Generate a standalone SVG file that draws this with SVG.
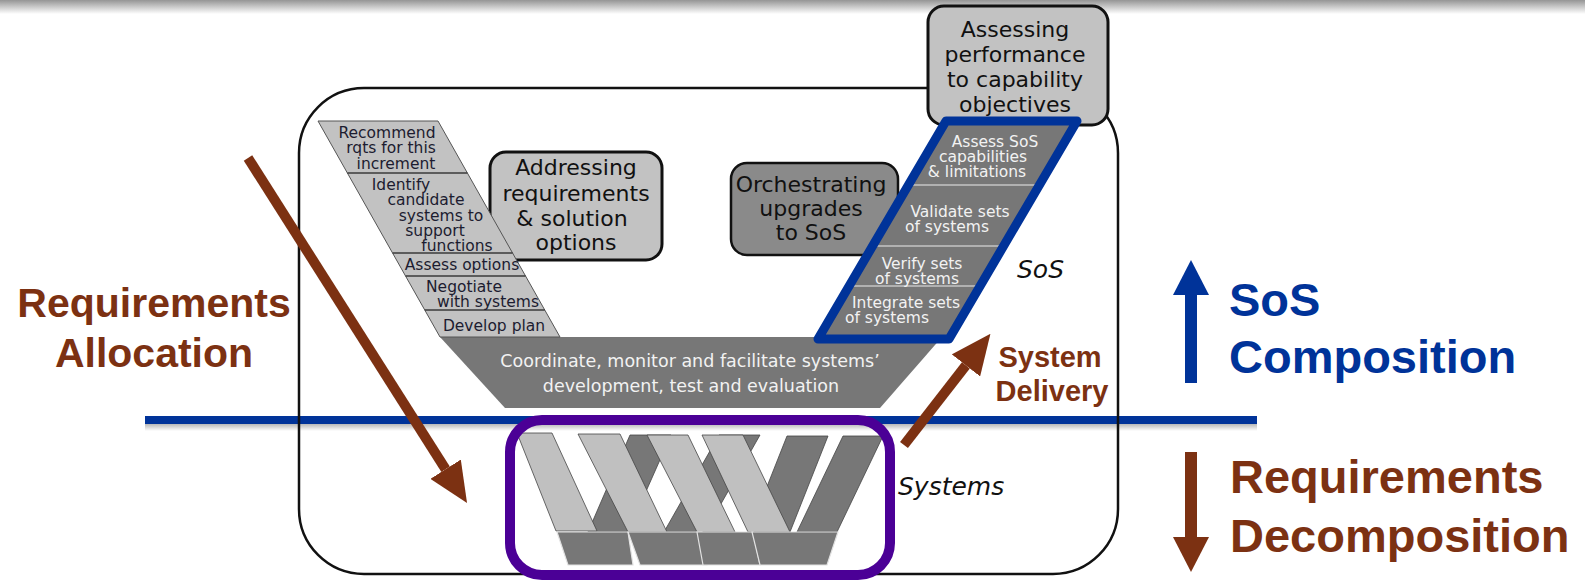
<svg xmlns="http://www.w3.org/2000/svg" width="1585" height="580" viewBox="0 0 1585 580">
  <style>
    .box-light { fill: #c2c2c2; stroke: #111; stroke-width: 3; }
    .box-mid { fill: #8a8a8a; stroke: #111; stroke-width: 2.5; }
    .box-text { font-family: "DejaVu Sans", Verdana, sans-serif; font-size: 22px; fill: #111; text-anchor: middle; }
    .arm-text { font-family: "DejaVu Sans", Verdana, sans-serif; font-size: 15.5px; text-anchor: middle; }
    .dark-ink { fill: #1c1c30; }
    .light-ink { fill: #f2f2f2; }
    .level { font-family: "DejaVu Sans", Verdana, sans-serif; font-size: 25px; font-style: italic; fill: #111; }
    .big { font-family: "Liberation Sans", Arial, sans-serif; font-weight: bold; }
    .brown { fill: #7c3112; }
    .blue { fill: #003399; }
    .bar-light { fill: #c0c0c0; stroke: #454545; stroke-width: 0.8; }
    .bar-dark { fill: #777; stroke: #454545; stroke-width: 0.8; }
    .foot { fill: #777; stroke: #e2e2e2; stroke-width: 1.2; }
  </style>
  <defs>
    <linearGradient id="topShade" x1="0" y1="0" x2="0" y2="1">
      <stop offset="0" stop-color="#959595"/>
      <stop offset="1" stop-color="#ffffff"/>
    </linearGradient>
    <linearGradient id="lineShade" x1="0" y1="0" x2="0" y2="1">
      <stop offset="0" stop-color="#000" stop-opacity="0.28"/>
      <stop offset="1" stop-color="#000" stop-opacity="0"/>
    </linearGradient>
    <marker id="headBrown" viewBox="0 0 40 36" refX="0" refY="18" markerWidth="40" markerHeight="36" markerUnits="userSpaceOnUse" orient="auto">
      <path d="M0,0 L40,18 L0,36 Z" fill="#7c3112"/>
    </marker>
    <marker id="headBrownV" viewBox="0 0 35 36" refX="0" refY="18" markerWidth="35" markerHeight="36" markerUnits="userSpaceOnUse" orient="auto">
      <path d="M0,0 L35,18 L0,36 Z" fill="#7c3112"/>
    </marker>
    <marker id="headBlue" viewBox="0 0 35 36" refX="0" refY="18" markerWidth="35" markerHeight="36" markerUnits="userSpaceOnUse" orient="auto">
      <path d="M0,0 L35,18 L0,36 Z" fill="#003399"/>
    </marker>
  </defs>

  <rect x="0" y="0" width="1585" height="580" fill="#fff"/>
  <rect x="0" y="0" width="1585" height="14" fill="url(#topShade)"/>

  <!-- SoS / systems boundary line -->
  <g id="boundary">
    <rect x="145" y="424" width="1112" height="7" fill="url(#lineShade)"/>
    <line x1="145" y1="420" x2="1257" y2="420" stroke="#003399" stroke-width="8"/>
  </g>

  <!-- outer frame -->
  <rect id="frame" x="299" y="88" width="819" height="486" rx="65" ry="65" fill="none" stroke="#111" stroke-width="2.5"/>

  <g id="assessing-box">
    <rect x="928" y="6" width="180" height="119" rx="16" class="box-light"/>
    <text class="box-text" x="1015" y="37">Assessing</text>
    <text class="box-text" x="1015" y="62">performance</text>
    <text class="box-text" x="1015" y="87">to capability</text>
    <text class="box-text" x="1015" y="112">objectives</text>
  </g>

  <g id="addressing-box">
    <rect x="490" y="152" width="172" height="108" rx="16" class="box-light"/>
    <text class="box-text" x="576" y="175">Addressing</text>
    <text class="box-text" x="576" y="201">requirements</text>
    <text class="box-text" x="572" y="226">&amp; solution</text>
    <text class="box-text" x="576" y="250">options</text>
  </g>

  <g id="orchestrating-box">
    <rect x="731" y="163" width="167" height="92" rx="16" class="box-mid"/>
    <text class="box-text" x="811" y="192">Orchestrating</text>
    <text class="box-text" x="811" y="216">upgrades</text>
    <text class="box-text" x="811" y="240">to SoS</text>
  </g>

  <!-- bottom of the SoS V -->
  <g id="coordinate">
    <polygon points="440,337 942,337 880,408 505,408" fill="#777"/>
    <text class="arm-text light-ink" style="font-size:17.5px" x="690" y="367">Coordinate, monitor and facilitate systems’</text>
    <text class="arm-text light-ink" style="font-size:17.5px" x="691" y="392">development, test and evaluation</text>
  </g>

  <!-- left arm of the SoS V -->
  <g id="left-arm">
    <polygon points="318,121 438,121 560,337 440,337" fill="#c2c2c2" stroke="#555" stroke-width="1"/>
    <g stroke="#3a3a3a" stroke-width="1.5">
      <line x1="347.4" y1="173" x2="467.4" y2="173"/>
      <line x1="392.6" y1="253" x2="512.6" y2="253"/>
      <line x1="405.6" y1="276" x2="525.6" y2="276"/>
      <line x1="424.8" y1="310" x2="544.8" y2="310"/>
    </g>
    <text class="arm-text dark-ink" x="387" y="138">Recommend</text>
    <text class="arm-text dark-ink" x="391" y="153">rqts for this</text>
    <text class="arm-text dark-ink" x="396" y="169">increment</text>
    <text class="arm-text dark-ink" x="401" y="190">Identify</text>
    <text class="arm-text dark-ink" x="426" y="205">candidate</text>
    <text class="arm-text dark-ink" x="441" y="221">systems to</text>
    <text class="arm-text dark-ink" x="435" y="236">support</text>
    <text class="arm-text dark-ink" x="457" y="251">functions</text>
    <text class="arm-text dark-ink" x="462" y="270">Assess options</text>
    <text class="arm-text dark-ink" x="464" y="292">Negotiate</text>
    <text class="arm-text dark-ink" x="488" y="307">with systems</text>
    <text class="arm-text dark-ink" x="494" y="331">Develop plan</text>
  </g>

  <!-- right arm of the SoS V -->
  <g id="right-arm">
    <polygon points="946,121 1077,121 949,339 818,339" fill="#777"/>
    <g stroke="#c4c4c4" stroke-width="1.5">
      <line x1="908.4" y1="185" x2="1039.4" y2="185"/>
      <line x1="872.6" y1="246" x2="1003.6" y2="246"/>
      <line x1="849.1" y1="286" x2="980.1" y2="286"/>
    </g>
    <text class="arm-text light-ink" x="995" y="147">Assess SoS</text>
    <text class="arm-text light-ink" x="983" y="162">capabilities</text>
    <text class="arm-text light-ink" x="977" y="177">&amp; limitations</text>
    <text class="arm-text light-ink" x="960" y="217">Validate sets</text>
    <text class="arm-text light-ink" x="947" y="232">of systems</text>
    <text class="arm-text light-ink" x="922" y="269">Verify sets</text>
    <text class="arm-text light-ink" x="917" y="284">of systems</text>
    <text class="arm-text light-ink" x="906" y="308">Integrate sets</text>
    <text class="arm-text light-ink" x="887" y="323">of systems</text>
    <polygon points="946,121 1077,121 949,339 818,339" fill="none" stroke="#003399" stroke-width="9" stroke-linejoin="round"/>
  </g>

  <text id="sos-label" class="level" x="1017" y="278">SoS</text>
  <text id="systems-label" class="level" x="898" y="495">Systems</text>

  <!-- woven system-level Vs -->
  <g id="systems">
    <polygon class="bar-dark" points="630,435 671,435 628,532 588,532"/>
    <polygon class="bar-dark" points="719,435 760,435 705,532 664,532"/>
    <polygon class="bar-dark" points="787,436 828,436 790,532 749,532"/>
    <polygon class="bar-dark" points="843,436 883,436 837,532 797,532"/>
    <polygon class="bar-light" points="517,433 552,433 597,531 556,531"/>
    <polygon class="bar-light" points="578,434 620,434 667,532 628,532"/>
    <polygon class="bar-light" points="647,435 688,435 735,532 697,532"/>
    <polygon class="bar-light" points="702,435 743,435 790,532 748,532"/>
    <polygon class="foot" points="557,532 628,532 633,565 568,565"/>
    <polygon class="foot" points="628,532 702,532 707,565 640,565"/>
    <polygon class="foot" points="697,532 753,532 760,565 703,565"/>
    <polygon class="foot" points="752,532 838,532 827,565 760,565"/>
    <rect x="510" y="420" width="380" height="155" rx="32" ry="32" fill="none" stroke="#4b0096" stroke-width="10"/>
  </g>

  <!-- connectors -->
  <g id="connectors">
    <line x1="248" y1="158" x2="445.6" y2="469.2" stroke="#7c3112" stroke-width="10" marker-end="url(#headBrown)"/>
    <line x1="904" y1="445" x2="965.9" y2="365.4" stroke="#7c3112" stroke-width="10" marker-end="url(#headBrown)"/>
    <line x1="1191" y1="383" x2="1191" y2="295" stroke="#003399" stroke-width="12" marker-end="url(#headBlue)"/>
    <line x1="1191" y1="452" x2="1191" y2="537" stroke="#7c3112" stroke-width="12" marker-end="url(#headBrownV)"/>
  </g>

  <g id="allocation-label">
    <text class="big brown" x="154" y="317" font-size="41" text-anchor="middle">Requirements</text>
    <text class="big brown" x="154" y="367" font-size="41" text-anchor="middle">Allocation</text>
  </g>
  <g id="delivery-label">
    <text class="big brown" x="1050" y="367" font-size="29" text-anchor="middle">System</text>
    <text class="big brown" x="1052" y="401" font-size="29" text-anchor="middle">Delivery</text>
  </g>
  <g id="composition-label">
    <text class="big blue" x="1229" y="316" font-size="47">SoS</text>
    <text class="big blue" x="1229" y="373" font-size="47">Composition</text>
  </g>
  <g id="decomposition-label">
    <text class="big brown" x="1230" y="493" font-size="47">Requirements</text>
    <text class="big brown" x="1230" y="552" font-size="47">Decomposition</text>
  </g>
</svg>
